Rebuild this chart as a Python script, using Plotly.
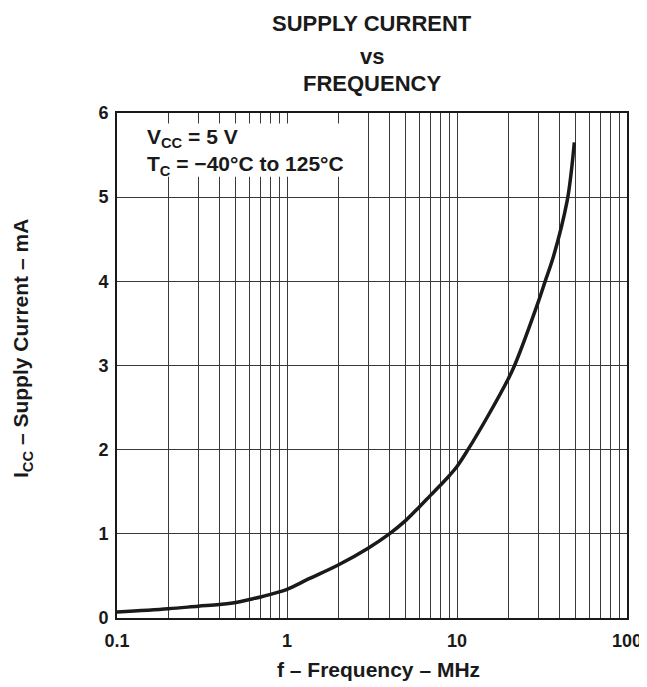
import plotly.graph_objects as go

# Data
freq_mhz = [0.1, 0.2, 0.3, 0.4, 0.5, 0.6, 0.7, 0.8, 0.9, 1.0, 1.36, 2.0, 3.0, 4.0, 5.0,
            6.0, 7.0, 8.0, 9.0, 10.0, 11.6, 15.2, 20.0, 21.8, 30.0, 33.0, 37.0, 44.4, 47.0, 49.0]
icc_ma = [0.07, 0.11, 0.14, 0.16, 0.185, 0.22, 0.25, 0.28, 0.31, 0.34, 0.47, 0.63, 0.83, 1.0, 1.16,
          1.32, 1.46, 1.58, 1.69, 1.80, 2.0, 2.4, 2.84, 3.0, 3.75, 4.0, 4.3, 4.95, 5.3, 5.65]

x_major_ticks = [0.1, 1, 10, 100]
x_major_text = ["0.1", "1", "10", "100"]
x_minor_ticks = [m * d for d in (0.1, 1, 10) for m in range(2, 10)]
y_ticks = [0, 1, 2, 3, 4, 5, 6]

title_lines = ["SUPPLY CURRENT", "vs", "FREQUENCY"]
condition_text = "V<sub>CC</sub> = 5 V<br>T<sub>C</sub> = \u221240\u00b0C to 125\u00b0C"
x_label = "f \u2013 Frequency \u2013 MHz"
y_label = "I<sub>CC</sub> \u2013 Supply Current \u2013 mA"

FONT = "Liberation Sans, Arial, sans-serif"
GRID = "#3a3a3a"
INK = "#1a1a1a"

fig = go.Figure()
fig.add_trace(go.Scatter(
    x=freq_mhz, y=icc_ma, mode="lines",
    line=dict(color=INK, width=3.5, shape="spline", smoothing=1.0),
    showlegend=False, hoverinfo="skip",
))

# page body has an 8px margin, so margins are offset by 8px
fig.update_layout(
    width=647, height=687,
    margin=dict(l=109, r=28, t=104.5, b=76.7),
    paper_bgcolor="white", plot_bgcolor="white",
    font=dict(family=FONT, color=INK),
    showlegend=False,
)

fig.update_xaxes(
    type="log", range=[-1, 2],
    tickmode="array", tickvals=x_major_ticks, ticktext=x_major_text,
    tickfont=dict(family=FONT, size=18, weight="bold", color=INK),
    ticks="", ticklabelstandoff=5,
    showgrid=True, gridcolor=GRID, gridwidth=1,
    minor=dict(tickvals=x_minor_ticks, showgrid=True, gridcolor=GRID, gridwidth=1, ticks=""),
    showline=True, linecolor=INK, linewidth=2, mirror=True,
    zeroline=False,
)
fig.update_yaxes(
    range=[0, 6], tickmode="array", tickvals=y_ticks,
    tickfont=dict(family=FONT, size=18, weight="bold", color=INK),
    ticks="", ticklabelstandoff=3,
    showgrid=True, gridcolor=GRID, gridwidth=1,
    showline=True, linecolor=INK, linewidth=2, mirror=True,
    zeroline=False,
)

# Title (three lines)
for txt, yy in zip(title_lines, [1.177, 1.112, 1.058]):
    fig.add_annotation(
        text="<b>%s</b>" % txt, xref="paper", yref="paper", x=0.5, y=yy,
        xanchor="center", yanchor="middle", showarrow=False,
        font=dict(family=FONT, size=22, color=INK),
    )

# White panel behind the condition text (masks grid lines)
fig.add_shape(
    type="rect", xref="paper", yref="paper",
    x0=0.025, x1=0.467, y0=0.874, y1=0.979,
    fillcolor="white", line=dict(width=0), layer="above",
)
fig.add_annotation(
    text="<b>%s</b>" % condition_text, xref="paper", yref="paper",
    x=0.055, y=0.981, xanchor="left", yanchor="top", align="left",
    showarrow=False, font=dict(family=FONT, size=21, color=INK),
)

# Axis labels
fig.add_annotation(
    text="<b>%s</b>" % x_label, xref="paper", yref="paper",
    x=0.512, y=-0.102, xanchor="center", yanchor="middle", showarrow=False,
    font=dict(family=FONT, size=21, color=INK),
)
fig.add_annotation(
    text="<b>%s</b>" % y_label, xref="paper", yref="paper",
    x=-0.186, y=0.533, xanchor="center", yanchor="middle", textangle=-90,
    showarrow=False, font=dict(family=FONT, size=21, color=INK),
)

fig.write_html(
    "out.html",
    post_script="document.documentElement.style.overflow='hidden';document.body.style.overflow='hidden';",
)
